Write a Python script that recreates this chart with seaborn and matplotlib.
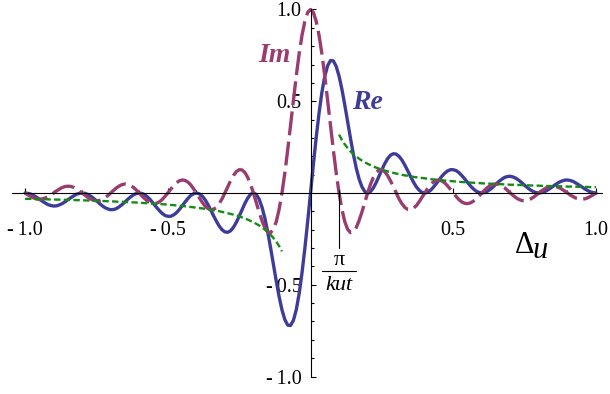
import numpy as np
import matplotlib
matplotlib.use("Agg")
import matplotlib.pyplot as plt
import seaborn as sns

# sample grid, step 0.01 from -1 to 1
x = np.round(np.linspace(-1, 1, 201), 2)

# Re (solid blue), x = -1.00 .. -0.01
re_left = [0, -.002, -.006, -.014, -.023, -.034, -.044, -.054, -.063, -.068,
           -.071, -.070, -.065, -.058, -.048, -.037, -.026, -.016, -.007, -.002,
           0, -.002, -.008, -.017, -.029, -.042, -.056, -.069, -.080, -.087,
           -.091, -.090, -.085, -.075, -.063, -.049, -.034, -.021, -.010, -.003,
           0, -.003, -.010, -.023, -.039, -.058, -.077, -.095, -.111, -.122,
           -.127, -.127, -.120, -.108, -.091, -.071, -.050, -.031, -.014, -.004,
           0, -.004, -.016, -.035, -.061, -.091, -.123, -.153, -.180, -.200,
           -.212, -.214, -.206, -.187, -.160, -.127, -.092, -.057, -.028, -.007,
           0, -.008, -.034, -.077, -.137, -.212, -.298, -.389, -.480, -.565,
           -.637, -.690, -.720, -.722, -.694, -.637, -.550, -.437, -.304, -.156]
# Re, x = 0.00 .. 1.00
re_right = [0, .156, .304, .437, .550, .637, .694, .722, .720, .690,
            .637, .565, .480, .389, .298, .212, .137, .077, .034, .008,
            0, .007, .028, .057, .092, .127, .160, .187, .206, .214,
            .212, .200, .180, .153, .123, .091, .061, .035, .016, .004,
            0, .004, .014, .031, .050, .071, .091, .108, .120, .127,
            .127, .122, .111, .095, .077, .058, .039, .023, .010, .003,
            0, .003, .010, .021, .034, .049, .063, .075, .085, .090,
            .091, .087, .080, .069, .056, .042, .029, .017, .008, .002,
            0, .002, .007, .016, .026, .037, .048, .058, .065, .070,
            .071, .068, .063, .054, .044, .034, .023, .014, .006, .002,
            0]

# Im (long-dashed purple), x = -1.00 .. -0.01
im_left = [0, -.010, -.019, -.027, -.032, -.034, -.032, -.028, -.020, -.011,
           0, .011, .021, .030, .035, .037, .036, .031, .023, .012,
           0, -.012, -.024, -.033, -.040, -.042, -.041, -.035, -.026, -.014,
           0, .014, .028, .038, .046, .049, .047, .041, .030, .016,
           0, -.017, -.032, -.045, -.054, -.058, -.056, -.049, -.036, -.019,
           0, .020, .039, .055, .066, .071, .069, .060, .045, .024,
           0, -.025, -.049, -.070, -.084, -.091, -.089, -.078, -.058, -.032,
           0, .034, .067, .095, .116, .127, .126, .112, .085, .047,
           0, -.052, -.104, -.151, -.189, -.212, -.216, -.198, -.156, -.089,
           0, .109, .234, .368, .505, .637, .757, .858, .935, .984]
# Im, x = 0.00 .. 1.00
im_right = [1.0, .984, .935, .858, .757, .637, .505, .368, .234, .109,
            0, -.089, -.156, -.198, -.216, -.212, -.189, -.151, -.104, -.052,
            0, .047, .085, .112, .126, .127, .116, .095, .067, .034,
            0, -.032, -.058, -.078, -.089, -.091, -.084, -.070, -.049, -.025,
            0, .024, .045, .060, .069, .071, .066, .055, .039, .020,
            0, -.019, -.036, -.049, -.056, -.058, -.054, -.045, -.032, -.017,
            0, .016, .030, .041, .047, .049, .046, .038, .028, .014,
            0, -.014, -.026, -.035, -.041, -.042, -.040, -.033, -.024, -.012,
            0, .012, .023, .031, .036, .037, .035, .030, .021, .011,
            0, -.011, -.020, -.028, -.032, -.034, -.032, -.027, -.019, -.010,
            0]

# envelope (green dotted), two branches
x_env_left = np.round(np.linspace(-1, -0.1, 91), 2)
env_left = [-.032, -.032, -.032, -.033, -.033, -.034, -.034, -.034, -.035, -.035,
            -.035, -.036, -.036, -.037, -.037, -.037, -.038, -.038, -.039, -.039,
            -.040, -.040, -.041, -.041, -.042, -.042, -.043, -.044, -.044, -.045,
            -.045, -.046, -.047, -.048, -.048, -.049, -.050, -.051, -.051, -.052,
            -.053, -.054, -.055, -.056, -.057, -.058, -.059, -.060, -.061, -.062,
            -.064, -.065, -.066, -.068, -.069, -.071, -.072, -.074, -.076, -.078,
            -.080, -.082, -.084, -.086, -.088, -.091, -.094, -.096, -.099, -.103,
            -.106, -.110, -.114, -.118, -.122, -.127, -.133, -.138, -.145, -.152,
            -.159, -.168, -.177, -.187, -.199, -.212, -.227, -.245, -.265, -.289,
            -.318]
x_env_right = np.round(np.linspace(0.1, 1, 91), 2)
env_right = [.318, .289, .265, .245, .227, .212, .199, .187, .177, .168,
             .159, .152, .145, .138, .133, .127, .122, .118, .114, .110,
             .106, .103, .099, .096, .094, .091, .088, .086, .084, .082,
             .080, .078, .076, .074, .072, .071, .069, .068, .066, .065,
             .064, .062, .061, .060, .059, .058, .057, .056, .055, .054,
             .053, .052, .051, .051, .050, .049, .048, .048, .047, .046,
             .045, .045, .044, .044, .043, .042, .042, .041, .041, .040,
             .040, .039, .039, .038, .038, .037, .037, .037, .036, .036,
             .035, .035, .035, .034, .034, .034, .033, .033, .032, .032,
             .032]

re = np.array(re_left + re_right)
im = np.array(im_left + im_right)

major_ticks = [-1.0, -0.5, 0.5, 1.0]
major_labels = ["-\u20091.0", "-\u20090.5", "0.5", "1.0"]
minor_ticks = [-0.9, -0.8, -0.7, -0.6, -0.4, -0.3, -0.2, -0.1,
               0.1, 0.2, 0.3, 0.4, 0.6, 0.7, 0.8, 0.9]

c_re = "#3d3d99"
c_im = "#993d71"
c_env = "#148c14"

sns.set_style("white")
plt.rcParams["font.family"] = ["Liberation Serif", "DejaVu Serif"]
plt.rcParams["text.color"] = "black"
plt.rcParams["xtick.color"] = "black"
plt.rcParams["ytick.color"] = "black"

fig = plt.figure(figsize=(6.1, 3.94), dpi=100)
ax = fig.add_axes([0.020, 0.0444, 0.9664, 0.9315])

sns.lineplot(x=x, y=re, ax=ax, color=c_re, linewidth=2.4)
sns.lineplot(x=x, y=im, ax=ax, color=c_im, linewidth=2.4)
ax.lines[-1].set_dashes([7.2, 1.9])
ax.lines[-1].set_clip_on(False)
sns.lineplot(x=x_env_left, y=env_left, ax=ax, color=c_env, linewidth=1.7)
ax.lines[-1].set_dashes([2.7, 1.4])
sns.lineplot(x=x_env_right, y=env_right, ax=ax, color=c_env, linewidth=1.7)
ax.lines[-1].set_dashes([2.7, 1.4])

ax.set_xlim(-1.045, 1.02)
ax.set_ylim(-1, 1)

for side in ["top", "right"]:
    ax.spines[side].set_visible(False)
for side in ["left", "bottom"]:
    ax.spines[side].set_position(("data", 0))
    ax.spines[side].set_linewidth(0.8)
    ax.spines[side].set_color("black")

ax.set_xticks(major_ticks)
ax.set_xticklabels(major_labels)
ax.set_yticks(major_ticks)
ax.set_yticklabels(major_labels)
ax.set_xticks(minor_ticks, minor=True)
ax.set_yticks(minor_ticks, minor=True)
ax.tick_params(which="both", direction="in", color="black", width=0.8,
               labelsize=14.4, labelcolor="black", bottom=True, left=True)
ax.tick_params(which="major", length=3.8)
ax.tick_params(which="minor", length=2.5)
ax.tick_params(axis="x", which="major", pad=20.5)
ax.tick_params(axis="y", which="major", pad=6.5)
ax.set_xlabel("")
ax.set_ylabel("")

# curve labels
ax.text(-0.184, 0.714, "Im", color=c_im, fontsize=20, fontweight="bold",
        style="italic", ha="left", va="baseline")
ax.text(0.144, 0.458, "Re", color=c_re, fontsize=20, fontweight="bold",
        style="italic", ha="left", va="baseline")

# axis label
ax.text(0.716, -0.327, "\u0394", fontsize=22, ha="left", va="baseline")
ax.text(0.779, -0.354, "u", fontsize=22, style="italic", ha="left", va="baseline")

# marker at pi/(k u t)
ax.plot([0.1, 0.1], [0.016, -0.30], color="black", linewidth=0.8)
ax.text(0.1, -0.395, "\u03c0", fontsize=16, ha="center", va="baseline")
ax.plot([0.039, 0.159], [-0.425, -0.425], color="black", linewidth=0.8)
ax.text(0.1, -0.53, "kut", fontsize=16, style="italic", ha="center", va="baseline")

fig.savefig("out.png", dpi=100)
